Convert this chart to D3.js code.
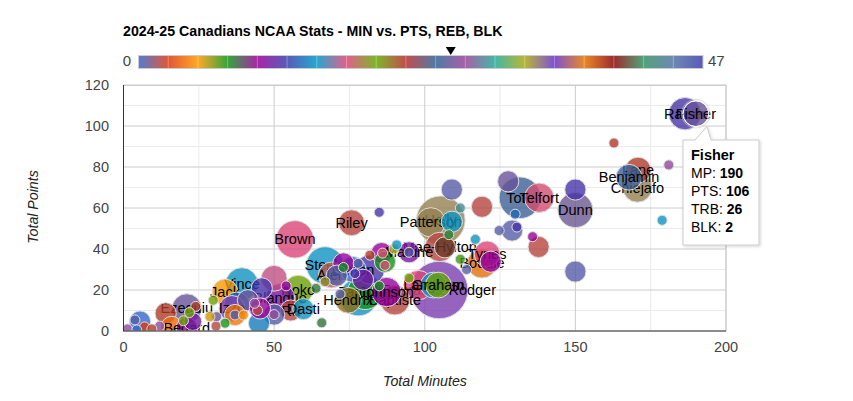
<!DOCTYPE html>
<html><head><meta charset="utf-8">
<script src="https://cdn.jsdelivr.net/npm/d3@7"></script>
<style>html,body{margin:0;background:#fff}svg{display:block}text{font-family:"Liberation Sans",Arial,sans-serif}</style>
</head><body><svg id="c" width="853" height="401"></svg>
<script>
const title = "2024-25 Canadians NCAA Stats - MIN vs. PTS, REB, BLK";
const xTicks = [0,50,100,150,200];
const yTicks = [0,20,40,60,80,100,120];
const xMinor = [25,75,125,175];
const yMinor = [10,30,50,70,90,110];
const legendColors = ["#3366cc","#dc3912","#ff9900","#109618","#990099","#3b3eac","#0099c6","#dd4477","#66aa00","#b82e2e","#316395","#994499","#22aa99","#aaaa11","#6633cc","#e67300","#8b0707","#329262","#5574a6","#3b3eac"];
const names = ["Fisher","Raiser","","","","Lane","Benjamin","Chiejafo","Dunn","","","Telfort","Toth","","","","","","","",
"","","","Holly","Patterson","","","","","Mae-Hylton","","Tynes","Boddie","","","Bourassa-Rodger","Langham","Graham","","",
"Baptiste","Johnson","Tangora","","Hendrix","","","","Noko","Blanque","","","Ra","Dasti","","","","Brown","Riley","",
"Steele","","","","","Alen","","","Burton","","","","","","","","","","Martine","",
"Jack","Vince","","","","","","","","","","","","","","","Izzo","","Ezequiu","","","","","","","Bedard","","","","","","",""];
const minutes = [190,186.4,162.8,181,178.8,170.8,167.8,170.6,150,150,150,138,131.6,127.7,130,129,130.6,124.7,135.8,137.8,
109,119,111.8,105.3,102,109,108,116.8,106.7,105,121.9,120.7,119,111.8,113.9,104.8,102.9,104.5,97.9,94.8,
90.1,87.3,80.2,78,74.6,84.9,71.9,65.8,58,52,54,50,55.5,59.7,50,50,63.9,56.9,75.7,84.9,
66.9,73,73,66.9,70.8,69,76.8,77.9,76.2,81.8,79.5,81.8,85.7,86.8,86.8,86,89.8,90.7,94.8,94.8,
33.7,39.3,45.9,37.6,41.3,37,37,39.8,45,45.3,44.5,43.5,33.7,30.7,30.9,29.8,36,28.7,21,14,24,21.9,19.9,23,16,21,12,7,9.4,5.5,3.8,1.3,4.4];
const points = [106,106,91.7,81,54,78.5,75,70,59,69,29,65,65,73,57,49,50.7,49,46,41,
69,60.6,60,54,53,53.3,47,44.7,40.8,41,33.8,37.6,33,35,30,20,22.4,22.4,22.4,25.8,
15,19,19,16.5,15,22,18,4,20,16,22,25.7,10,10.7,8,8,20.8,44.7,52.8,57.9,
32,33,31,24,27,27.3,28,33,30,30,25,37,38,33.8,32,38,40,42,38.4,38.4,
19,23,20.8,12.7,15,7.8,7.8,7.8,3.8,11,10,13.5,3.8,2.4,7,15,11,7,11,8.6,12,9,5,4.6,2,1.5,2.4,2,1,4.6,5.4,1,0.5];
const rebounds = [26,12,22,27,15,22,25,33,0.8,12,0.5,17.5,25,26,13.5,0.5,12,0.5,10,1.9,
0.5,1.9,29,33,33,15,7.8,15,40.5,1.9,10,17.3,37,7,0.5,35,15,20,17.3,20,
1.9,10,7.4,15,21,7.6,0.5,8,20,10.7,10,17,1.9,15,0.5,27,8,17.3,1.9,12,
15,10,7.6,19,0.5,18,12,0.5,0,12,11,22,10,7.5,17.5,17.5,32,15,10.7,0.5,
5,15,12,13.5,26,4,0.5,4.5,14,10,1.9,27,7.4,1.9,26,20,35,5.5,26,22,22,20,20,11,3.7,10,27,2.5,22,0,0.5,27,0];
const blocks = [2,4,0,0,0,2,2,3,5,1,1,3,8,1,0,1,0,0,0,1,
1,1,0,12,3,1,0,0,1,3,1,2,3,0,0,18,2,2,3,0,
3,3,5,6,2,0,0,0,3,3,0,2,1,1,1,0,0,6,2,0,
6,1,0,0,1,2,0,0,2,3,1,0,1,1,0,0,0,0,1,0,
2,4,1,2,1,1,0,0,1,1,0,0,0,0,0,0,2,0,3,1,0,0,0,0.5,1,1,0,0,0,1,0,0,0];
const hoverIndex = 0, legendMax = 47;

const svg = d3.select("#c");
const x = d3.scaleLinear().domain([0,200]).range([123.5,726]);
const y = d3.scaleLinear().domain([0,120]).range([331,85]);
const r = d3.scaleSqrt().domain([0,20]).range([5,30]);
const stopVals = legendColors.map((_,i)=>i*legendMax/(legendColors.length-1));
const color = d3.scaleLinear().domain(stopVals).range(legendColors);
const lx = d3.scaleLinear().domain([0,legendMax]).range([138.5,703]);

svg.append("text").attr("x",123).attr("y",36).attr("font-size",14.2).attr("font-weight","bold").attr("fill","#000").text(title);

// colour legend
const defs = svg.append("defs");
const grad = defs.append("linearGradient").attr("id","lg");
stopVals.forEach((v,i)=>grad.append("stop").attr("offset",v/legendMax).attr("stop-color",legendColors[i]));
svg.append("rect").attr("x",lx(0)).attr("y",55.5).attr("width",lx(legendMax)-lx(0)).attr("height",13).attr("fill","url(#lg)").attr("fill-opacity",.85).attr("stroke","#ccc");
svg.selectAll(".sep").data(stopVals.slice(1,-1)).join("line").attr("x1",lx).attr("x2",lx).attr("y1",56).attr("y2",68).attr("stroke","#fff").attr("stroke-opacity",.3);
svg.append("text").attr("x",131).attr("y",66).attr("text-anchor","end").attr("font-size",15).attr("fill","#444").text("0");
svg.append("text").attr("x",708).attr("y",66).attr("font-size",15).attr("fill","#444").text(legendMax);
const mx = lx(rebounds[hoverIndex]);
svg.append("path").attr("d",`M${mx-5},47H${mx+5}L${mx},55Z`).attr("fill","#000");

// grid
const g = svg.append("g");
g.selectAll(".xm").data(xMinor).join("line").attr("x1",x).attr("x2",x).attr("y1",85).attr("y2",331).attr("stroke","#ebebeb");
g.selectAll(".ym").data(yMinor).join("line").attr("y1",d=>y(d)).attr("y2",d=>y(d)).attr("x1",123.5).attr("x2",726).attr("stroke","#ebebeb");
g.selectAll(".xg").data(xTicks.slice(1)).join("line").attr("x1",x).attr("x2",x).attr("y1",85).attr("y2",331).attr("stroke","#ccc");
g.selectAll(".yg").data(yTicks.slice(1)).join("line").attr("y1",d=>y(d)).attr("y2",d=>y(d)).attr("x1",123.5).attr("x2",726).attr("stroke","#ccc");
g.selectAll(".xt").data(xTicks).join("text").attr("x",x).attr("y",352).attr("text-anchor","middle").attr("font-size",14.5).attr("fill","#444").text(d=>d);
g.selectAll(".yt").data(yTicks).join("text").attr("x",109).attr("y",d=>y(d)+5).attr("text-anchor","end").attr("font-size",14.5).attr("fill","#444").text(d=>d);

svg.append("text").attr("x",425).attr("y",386).attr("text-anchor","middle").attr("font-size",14.2).attr("font-style","italic").attr("fill","#222").text("Total Minutes");
svg.append("text").attr("transform","translate(38,207) rotate(-90)").attr("text-anchor","middle").attr("font-size",14.2).attr("font-style","italic").attr("fill","#222").text("Total Points");

// bubbles: largest first, each label straight after its bubble
defs.append("clipPath").attr("id","pc").append("rect").attr("x",123.5).attr("y",85).attr("width",602.5).attr("height",246);
const rows = names.map((n,i)=>({n,m:minutes[i],p:points[i],t:rebounds[i],b:blocks[i],i}))
  .sort((a,b)=>d3.descending(a.b,b.b)||d3.ascending(a.i,b.i));
const plot = svg.append("g").attr("clip-path","url(#pc)");
const items = plot.selectAll("g").data(rows).join("g");
items.append("circle").attr("cx",d=>x(d.m)).attr("cy",d=>y(d.p)).attr("r",d=>r(d.b))
  .attr("fill",d=>color(d.t)).attr("fill-opacity",.8).attr("stroke","#ddd").attr("stroke-width",1);
items.filter(d=>d.n).append("text").attr("x",d=>x(d.m)).attr("y",d=>y(d.p)+5).attr("text-anchor","middle")
  .attr("font-size",14.5).attr("fill","#000").text(d=>d.n);

// axis lines
svg.append("rect").attr("x",123.5).attr("y",85.5).attr("width",602.5).attr("height",245.5).attr("fill","none").attr("stroke","#ccc");
svg.append("line").attr("x1",123.5).attr("x2",123.5).attr("y1",85).attr("y2",331).attr("stroke","#333");
svg.append("line").attr("x1",123).attr("x2",726).attr("y1",331).attr("y2",331).attr("stroke","#333");

// hover ring + tooltip
const hx = x(minutes[hoverIndex]), hy = y(points[hoverIndex]), hr = r(blocks[hoverIndex]);
svg.append("circle").attr("cx",hx).attr("cy",hy).attr("r",hr).attr("fill","none").attr("stroke","#fff").attr("stroke-width",1);
svg.append("circle").attr("cx",hx).attr("cy",hy).attr("r",hr+1.5).attr("fill","none").attr("stroke","#ccc").attr("stroke-opacity",.6);
const tipX=683, tipY=140, tipW=76, tipH=105;
defs.append("filter").attr("id","sh").attr("x","-20%").attr("y","-20%").attr("width","140%").attr("height","140%")
  .append("feDropShadow").attr("dx",1).attr("dy",1).attr("stdDeviation",1.5).attr("flood-color","#000").attr("flood-opacity",.18);
svg.append("path").attr("filter","url(#sh)")
  .attr("d",`M${tipX},${tipY}H${tipX+12}L${hx+11},${hy+13}L${tipX+28-0},${tipY}H${tipX+tipW}V${tipY+tipH}H${tipX}Z`)
  .attr("fill","#fff").attr("stroke","#ccc");
const lines = [["MP: ",minutes[hoverIndex]],["PTS: ",points[hoverIndex]],["TRB: ",rebounds[hoverIndex]],["BLK: ",blocks[hoverIndex]]];
svg.append("text").attr("x",691).attr("y",160).attr("font-size",14.5).attr("font-weight","bold").attr("fill","#000").text(names[hoverIndex]);
lines.forEach((l,i)=>{
  const t = svg.append("text").attr("x",691).attr("y",178+i*18).attr("font-size",14).attr("fill","#000");
  t.append("tspan").text(l[0]);
  t.append("tspan").attr("font-weight","bold").text(l[1]);
});
</script></body></html>
